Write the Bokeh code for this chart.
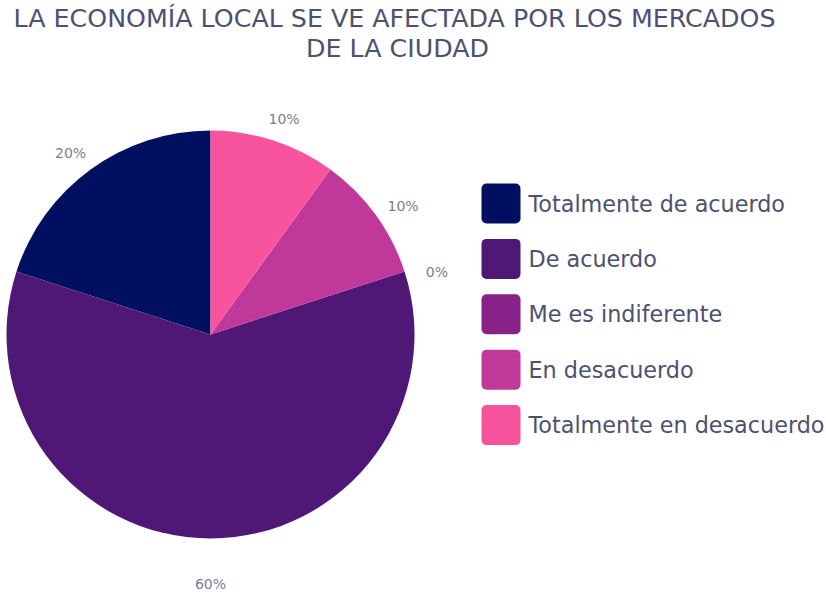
import math
from bokeh.plotting import figure
from bokeh.models import Range1d, ColumnDataSource
from bokeh.core.properties import value
from bokeh.embed import file_html
from bokeh.resources import INLINE

# ---- data ----
title_lines = ["LA ECONOMÍA LOCAL SE VE AFECTADA POR LOS MERCADOS", "DE LA CIUDAD"]
categories = ["Totalmente de acuerdo", "De acuerdo", "Me es indiferente",
              "En desacuerdo", "Totalmente en desacuerdo"]
percentages = [20, 60, 0, 10, 10]
colors = ["#000f5f", "#4f1877", "#882288", "#c0399a", "#f8539d"]

# ---- layout ----
W, H = 826, 592
FONT = "DejaVu Sans"
TITLE_COLOR = "#4d5170"
LABEL_COLOR = "#7a7d96"
cx, cy, R = 210, H - 334, 204
LABEL_R, LABEL_DROP = 238, 11

p = figure(width=W, height=H, x_range=Range1d(0, W), y_range=Range1d(0, H),
           output_backend="svg", toolbar_location=None,
           x_axis_type=None, y_axis_type=None, min_border=0)
p.grid.visible = False
p.outline_line_color = None
p.background_fill_color = "white"
p.border_fill_color = "white"

# wedges: start at top, go counter-clockwise
total = sum(percentages)
starts, ends, wcol, lx, ly, ltxt = [], [], [], [], [], []
acc = 0.0
for pct, col in zip(percentages, colors):
    a0 = acc / total * 2 * math.pi
    acc += pct
    a1 = acc / total * 2 * math.pi
    if pct > 0:
        starts.append(math.pi / 2 + a0)
        ends.append(math.pi / 2 + a1)
        wcol.append(col)
    mid = (a0 + a1) / 2
    lx.append(cx - LABEL_R * math.sin(mid))
    ly.append(cy + LABEL_R * math.cos(mid) - LABEL_DROP)
    ltxt.append(f"{pct}%")

src = ColumnDataSource(dict(start=starts, end=ends, color=wcol))
p.wedge(x=cx, y=cy, radius=R, start_angle="start", end_angle="end",
        fill_color="color", line_color=None, source=src)

p.text(x=lx, y=ly, text=ltxt, text_font=value(FONT), text_font_size="14px",
       text_color=LABEL_COLOR, text_align="center", text_baseline="middle")

# title
p.text(x=[394, 397], y=[H - 18, H - 48], text=title_lines, text_font=value(FONT),
       text_font_size="25.3px", text_color=TITLE_COLOR, text_align="center",
       text_baseline="middle")

# legend
lefts, rights, tops, bottoms, tx, ty = [], [], [], [], [], []
for i, c in enumerate(categories):
    top = H - (183 + i * 55.4)
    lefts.append(481); rights.append(520)
    tops.append(top); bottoms.append(top - 40)
    tx.append(528); ty.append(top - 20)
p.quad(left=lefts, right=rights, top=tops, bottom=bottoms, fill_color=colors,
       line_color=None, border_radius=5)
p.text(x=tx, y=ty, text=categories, text_font=value(FONT), text_font_size="22.3px",
       text_color=TITLE_COLOR, text_align="left", text_baseline="middle")

open("out.html", "w").write(file_html(p, INLINE))
